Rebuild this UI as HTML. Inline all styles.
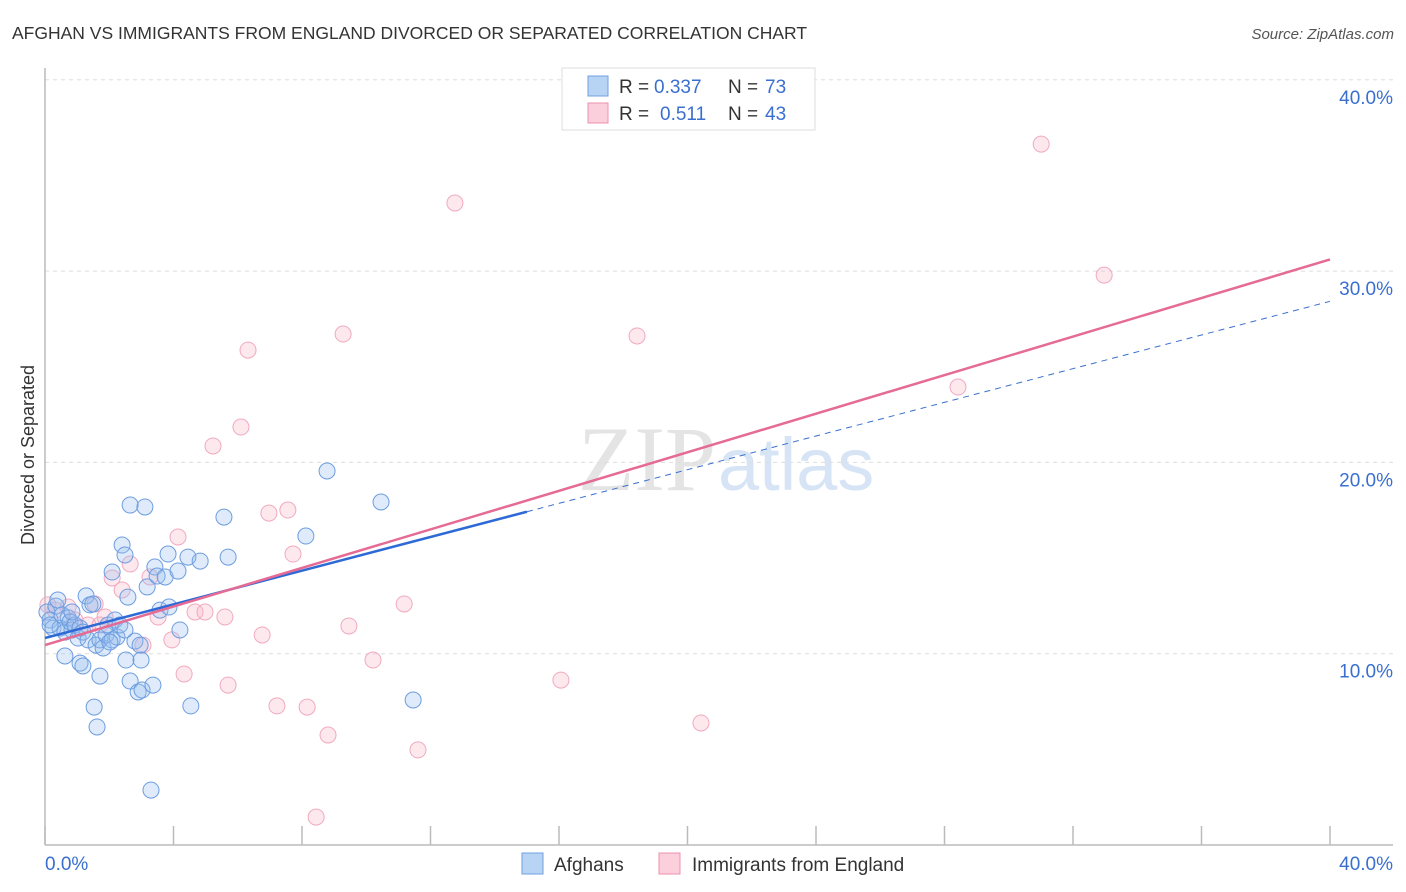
<!DOCTYPE html>
<html><head><meta charset="utf-8"><style>
body{margin:0;background:#fff;font-family:"Liberation Sans",sans-serif}
svg{display:block}
</style></head><body>
<svg id="c" width="1406" height="892" xmlns="http://www.w3.org/2000/svg">
<text x="12" y="39" font-size="17.5" fill="#333">AFGHAN VS IMMIGRANTS FROM ENGLAND DIVORCED OR SEPARATED CORRELATION CHART</text>
<text x="1394" y="39" font-size="15" fill="#555" text-anchor="end" font-style="italic">Source: ZipAtlas.com</text>
<text x="716" y="490" font-size="92" fill="#e4e4e4" text-anchor="end" font-family="Liberation Serif">ZIP</text>
<text x="718" y="490" font-size="74" fill="#d6e4f5">atlas</text>
<text transform="translate(34,455) rotate(-90)" font-size="18" fill="#333" text-anchor="middle">Divorced or Separated</text>
<g id="grid"></g><g id="pts"></g><g id="lines"></g>
<g>
<rect x="562" y="68" width="253" height="62" fill="#fff" stroke="#ddd"/>
<rect x="588" y="76" width="20" height="20" fill="#b8d4f5" stroke="#6f9fe0"/>
<rect x="588" y="103" width="20" height="20" fill="#fbcfdc" stroke="#ec92ae"/>
<text x="619" y="93" font-size="19" fill="#333">R =</text>
<text x="654" y="93" font-size="19" fill="#3a6fd0">0.337</text>
<text x="728" y="93" font-size="19" fill="#333">N =</text>
<text x="765" y="93" font-size="19" fill="#3a6fd0">73</text>
<text x="619" y="120" font-size="19" fill="#333">R =</text>
<text x="660" y="120" font-size="19" fill="#3a6fd0">0.511</text>
<text x="728" y="120" font-size="19" fill="#333">N =</text>
<text x="765" y="120" font-size="19" fill="#3a6fd0">43</text>
</g>
<g>
<rect x="522" y="853" width="21" height="21" fill="#b8d4f5" stroke="#6f9fe0"/>
<text x="554" y="871" font-size="19" fill="#333">Afghans</text>
<rect x="659" y="853" width="21" height="21" fill="#fbcfdc" stroke="#ec92ae"/>
<text x="692" y="871" font-size="19" fill="#333">Immigrants from England</text>
</g>
</svg>
<script>
const xTicks=[0,4,8,12,16,20,24,28,32,36,40];
const yTicks=[10,20,30,40];
const afghanX=[0.06,0.16,0.25,0.34,0.47,0.53,0.62,0.72,0.78,0.84,0.93,1.03,1.09,1.18,1.28,1.34,1.40,1.49,1.59,1.71,1.81,1.90,1.96,2.09,2.18,2.24,2.33,2.40,2.49,2.09,2.58,2.65,3.11,3.18,3.42,3.49,3.58,3.74,3.83,3.86,4.14,4.20,4.45,4.83,5.57,5.70,8.12,8.78,10.46,0.62,1.09,1.18,1.71,1.53,1.62,2.52,2.99,2.65,2.90,3.02,3.36,4.54,3.30,11.46,2.80,2.96,2.02,0.40,0.16,0.84,2.49];
const afghanY=[12.18,11.76,11.34,12.49,11.34,12.02,11.13,11.87,11.66,11.24,11.50,10.82,11.34,11.13,13.02,10.72,12.55,12.60,10.45,10.72,10.30,10.98,11.50,10.72,11.76,10.87,11.50,15.68,15.16,14.27,12.96,17.77,17.67,13.49,14.53,14.06,12.28,14.01,15.21,12.44,14.32,11.24,15.05,14.84,17.14,15.05,16.15,19.55,17.93,9.88,9.51,9.36,8.83,7.21,6.17,9.67,9.67,8.57,8.00,8.10,8.36,7.27,2.87,7.58,10.66,10.45,10.61,12.81,11.50,12.18,11.24];
const englandX=[0.09,0.31,0.72,0.93,1.34,1.56,1.87,2.09,2.40,2.65,3.05,3.27,3.52,3.95,4.14,4.33,4.67,4.98,5.23,5.60,5.70,6.10,6.32,6.76,6.97,7.22,7.56,7.72,8.16,8.44,8.81,9.28,9.46,10.21,11.18,11.61,12.76,16.06,18.43,20.42,28.42,31.01,32.97,1.71];
const englandY=[12.55,12.28,12.44,11.76,11.50,12.60,11.92,13.96,13.33,14.69,10.45,14.01,11.92,10.72,16.10,8.94,12.18,12.18,20.86,11.92,8.36,21.85,25.87,10.98,17.35,7.27,17.51,15.21,7.21,1.46,5.75,26.71,11.45,9.67,12.60,4.97,33.56,8.62,26.61,6.38,23.94,36.64,29.79,11.50];
const afghanTrend=[10.82,0.44]; // intercept, slope
const englandTrend=[10.45,0.504];
const X=v=>45+v/40*1285, Y=v=>845-v*19.13;
const NS="http://www.w3.org/2000/svg";
function mk(t,a,p){const e=document.createElementNS(NS,t);for(const k in a)e.setAttribute(k,a[k]);p.appendChild(e);return e;}
const grid=document.getElementById('grid');
yTicks.forEach(t=>{const l=mk('line',{x1:45,x2:1393,y1:Y(t),y2:Y(t),stroke:'#ddd','stroke-dasharray':'4,4'},grid);


const tx=mk('text',{x:1393,y:Y(t)+24,'font-size':19,fill:'#3a6fd0','text-anchor':'end'},grid);tx.textContent=t.toFixed(1)+'%';

});
mk('line',{x1:45,x2:1393,y1:845,y2:845,stroke:'#bbb','stroke-width':1.5},grid);
mk('line',{x1:45,x2:45,y1:68,y2:845,stroke:'#bbb','stroke-width':1.5},grid);
xTicks.forEach(t=>{const l=mk('line',{x1:X(t),x2:X(t),y1:826,y2:845,stroke:'#bbb','stroke-width':1.5},grid);

});
[[0,'start',45],[40,'end',1393]].forEach(([v,a,x])=>{const tx=mk('text',{x:x,y:870,'font-size':19,fill:'#3a6fd0','text-anchor':a},grid);tx.textContent=v.toFixed(1)+'%';

});
const pts=document.getElementById('pts');
englandX.forEach((v,i)=>{const c=mk('circle',{cx:X(v),cy:Y(englandY[i]),r:8,fill:'rgba(248,180,200,0.3)',stroke:'#f0aac0','stroke-width':1},pts);

});
afghanX.forEach((v,i)=>{const c=mk('circle',{cx:X(v),cy:Y(afghanY[i]),r:8,fill:'rgba(150,190,240,0.3)',stroke:'#6d9de0','stroke-width':1},pts);

});
const lines=document.getElementById('lines');
const f=(t,x)=>t[0]+t[1]*x;
let l=mk('line',{x1:X(15),y1:Y(f(afghanTrend,15)),x2:X(40),y2:Y(f(afghanTrend,40)),stroke:'#3a6fd0','stroke-width':1,'stroke-dasharray':'6,5'},lines);


l=mk('line',{x1:X(0),y1:Y(f(afghanTrend,0)),x2:X(15),y2:Y(f(afghanTrend,15)),stroke:'#2e6ad6','stroke-width':2.5},lines);


l=mk('line',{x1:X(0),y1:Y(f(englandTrend,0)),x2:X(40),y2:Y(f(englandTrend,40)),stroke:'#e56b95','stroke-width':2.5},lines);


</script>
</body></html>
